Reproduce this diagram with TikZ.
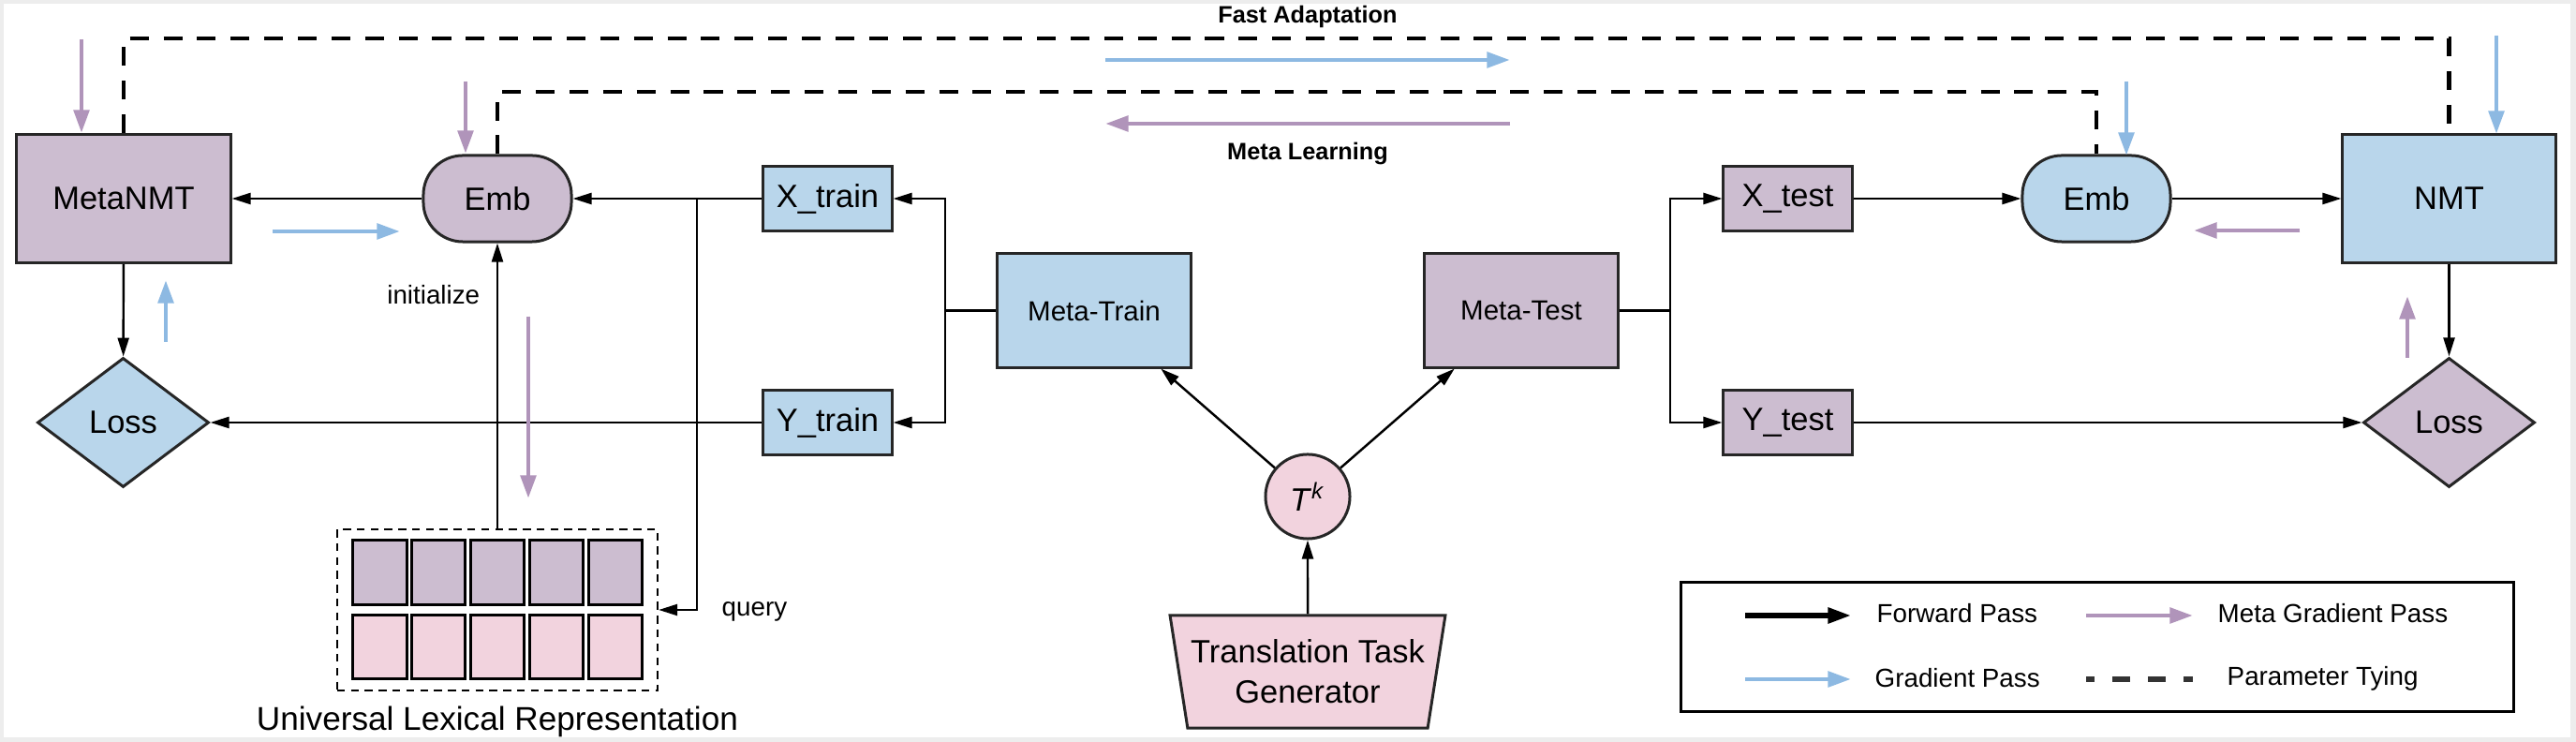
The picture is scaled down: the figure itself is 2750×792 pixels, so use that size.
\documentclass[tikz,border=0pt]{standalone}
\usepackage{fontspec}
\setmainfont{Liberation Sans}
\usetikzlibrary{arrows.meta,positioning,calc,shapes.geometric}

\definecolor{purplefill}{RGB}{204,189,208}
\definecolor{bluefill}{RGB}{185,214,235}
\definecolor{pinkfill}{RGB}{242,211,222}
\definecolor{purplearrow}{RGB}{176,148,186}
\definecolor{bluearrow}{RGB}{141,185,226}

\tikzset{
  block/.style={draw=black!85, line width=0.85pt, inner sep=0pt, font=\fontsize{9.8}{12}\selectfont},
  embbox/.style={block, rounded corners=12pt, minimum width=1.58cm, minimum height=0.92cm},
  lossbox/.style={block, diamond, minimum width=1.83cm, minimum height=1.38cm},
  databox/.style={block, minimum width=1.37cm, minimum height=0.69cm},
  phasebox/.style={block, minimum width=2.06cm, minimum height=1.21cm, font=\fontsize{8.4}{10}\selectfont},
  cellbox/.style={draw, line width=0.85pt, minimum width=0.57cm, minimum height=0.68cm, inner sep=0pt},
  smalltext/.style={inner sep=0pt, font=\fontsize{7.9}{9.5}\selectfont},
  boldtext/.style={inner sep=0pt, font=\fontsize{7.2}{9}\selectfont\bfseries},
  fwd/.style={line width=0.7pt, -{Triangle[length=5.7pt,width=3.4pt]}},
  gradpass/.style={bluearrow, line width=1.4pt, -{Triangle[length=7pt,width=4.6pt]}},
  metapass/.style={purplearrow, line width=1.4pt, -{Triangle[length=7pt,width=4.6pt]}},
  tying/.style={line width=1.3pt, dash pattern=on 5.7pt off 4.5pt},
}

\begin{document}
\begin{tikzpicture}[x=0.01cm, y=-0.01cm]
  \fill[black!7] (0,0) rectangle (2750,792);
  \fill[white] (4,4) rectangle (2744,787);
  \useasboundingbox (0,0) rectangle (2750,792);

  % meta-train side
  \node[block, fill=purplefill, minimum width=2.28cm, minimum height=1.37cm] (metanmt) at (132,212) {MetaNMT};
  \node[embbox, fill=purplefill] (embtrain) at (531,212) {Emb};
  \node[lossbox, fill=bluefill] (losstrain) at (131.5,451) {Loss};
  \node[databox, fill=bluefill] (xtrain) at (883.5,212) {X\_train};
  \node[databox, fill=bluefill] (ytrain) at (883.5,451) {Y\_train};
  \node[phasebox, fill=bluefill] (metatrain) at (1168,331.5) {Meta-Train};

  % meta-test side
  \node[phasebox, fill=purplefill] (metatest) at (1624,331.5) {Meta-Test};
  \node[databox, fill=purplefill] (xtest) at (1908.5,212) {X\_test};
  \node[databox, fill=purplefill] (ytest) at (1908.5,451) {Y\_test};
  \node[embbox, fill=bluefill] (embtest) at (2238,212) {Emb};
  \node[block, fill=bluefill, minimum width=2.27cm, minimum height=1.36cm] (nmt) at (2614.5,212) {NMT};
  \node[lossbox, fill=purplefill] (losstest) at (2614.5,451) {Loss};

  % task sampling
  \node[block, circle, fill=pinkfill, minimum size=0.9cm] (task) at (1396,530) {\textit{T}\textsuperscript{\textit{k}}};
  \node[block, trapezium, shape border rotate=180, trapezium left angle=75, trapezium right angle=75,
        trapezium stretches=true, minimum width=2.96cm, minimum height=1.2cm, fill=pinkfill,
        align=center, font=\fontsize{9.8}{12.2}\selectfont] (generator) at (1396,717) {Translation Task\\Generator};

  % universal lexical representation
  \node[draw, line width=0.6pt, dash pattern=on 2.4pt off 1.8pt, minimum width=3.42cm, minimum height=1.72cm] (ulr) at (531,651) {};
  \foreach \i in {0,...,4} {
    \node[cellbox, fill=purplefill] (key\i) at (405.5+62.8*\i,611) {};
    \node[cellbox, fill=pinkfill] (value\i) at (405.5+62.8*\i,690.5) {};
  }
  \node[inner sep=0pt, font=\fontsize{10}{12}\selectfont] (ulrlabel) at (531,770) {Universal Lexical Representation};

  \coordinate (splittrain) at (1009,331.5);
  \coordinate (splittest) at (1783,331.5);
  \coordinate (querybranch) at (744,212);
  \coordinate (fastrow) at (0,41);
  \coordinate (metarow) at (0,98);

  \path[fwd]
  (embtrain) edge (metanmt)
  (xtrain) edge (embtrain)
  (metanmt) edge (losstrain)
  (ytrain) edge (losstrain)
  (ulr.north) edge node [pos=0.82, left=5pt, smalltext] {initialize} (embtrain)
  (task) edge (metatrain)
         edge (metatest)
  (generator) edge (task)
  (xtest) edge (embtest)
  (embtest) edge (nmt)
  (nmt) edge (losstest)
  (ytest) edge (losstest);

  \draw[line width=0.7pt] (metatrain.west) -- (splittrain);
  \draw[fwd] (splittrain) |- (xtrain.east);
  \draw[fwd] (splittrain) |- (ytrain.east);
  \draw[line width=0.7pt] (metatest.east) -- (splittest);
  \draw[fwd] (splittest) |- (xtest.west);
  \draw[fwd] (splittest) |- (ytest.west);
  \draw[fwd] (querybranch) |- (ulr.east);
  \node[smalltext, anchor=west] (querylabel) at (770,653) {query};

  % parameter tying
  \draw[tying] (metanmt.north) -- (metanmt.north |- fastrow) -| (nmt.north);
  \draw[tying] (embtrain.north) -- (embtrain.north |- metarow) -| (embtest.north);
  \node[boldtext] (fastlabel) at (1396,18) {Fast Adaptation};
  \node[boldtext] (metalabel) at (1396,164) {Meta Learning};

  % gradient flow
  \draw[metapass] (87,42) -- (87,142);
  \draw[metapass] (497,87) -- (497,164);
  \draw[gradpass] (291,247) -- (427,247);
  \draw[gradpass] (177,365) -- (177,299);
  \draw[metapass] (564,338) -- (564,532);
  \draw[gradpass] (1180,64) -- (1612,64);
  \draw[metapass] (1612,132) -- (1180,132);
  \draw[gradpass] (2270,87) -- (2270,166);
  \draw[gradpass] (2665,38) -- (2665,143);
  \draw[metapass] (2455,246) -- (2342,246);
  \draw[metapass] (2570,382) -- (2570,316);

  % legend
  \node[draw, line width=0.85pt, minimum width=8.88cm, minimum height=1.37cm] (legend) at (2239,690.5) {};
  \draw[line width=1.5pt, -{Triangle[length=7pt,width=4.6pt]}] (1863,657) -- (1976,657);
  \draw[metapass] (2227,657) -- (2341,657);
  \draw[gradpass] (1863,725) -- (1976,725);
  \draw[black!80, line width=1.5pt, dash pattern=on 5.4pt off 5.4pt, dash phase=2.8pt] (2227,725) -- (2341,725);
  \node[smalltext, anchor=west] (fwdlabel) at (2003,655) {Forward Pass};
  \node[smalltext, anchor=west] (metalegend) at (2367,655) {Meta Gradient Pass};
  \node[smalltext, anchor=west] (gradlabel) at (2001,724) {Gradient Pass};
  \node[smalltext, anchor=west] (tyinglabel) at (2377,724) {Parameter Tying};
\end{tikzpicture}
\end{document}
